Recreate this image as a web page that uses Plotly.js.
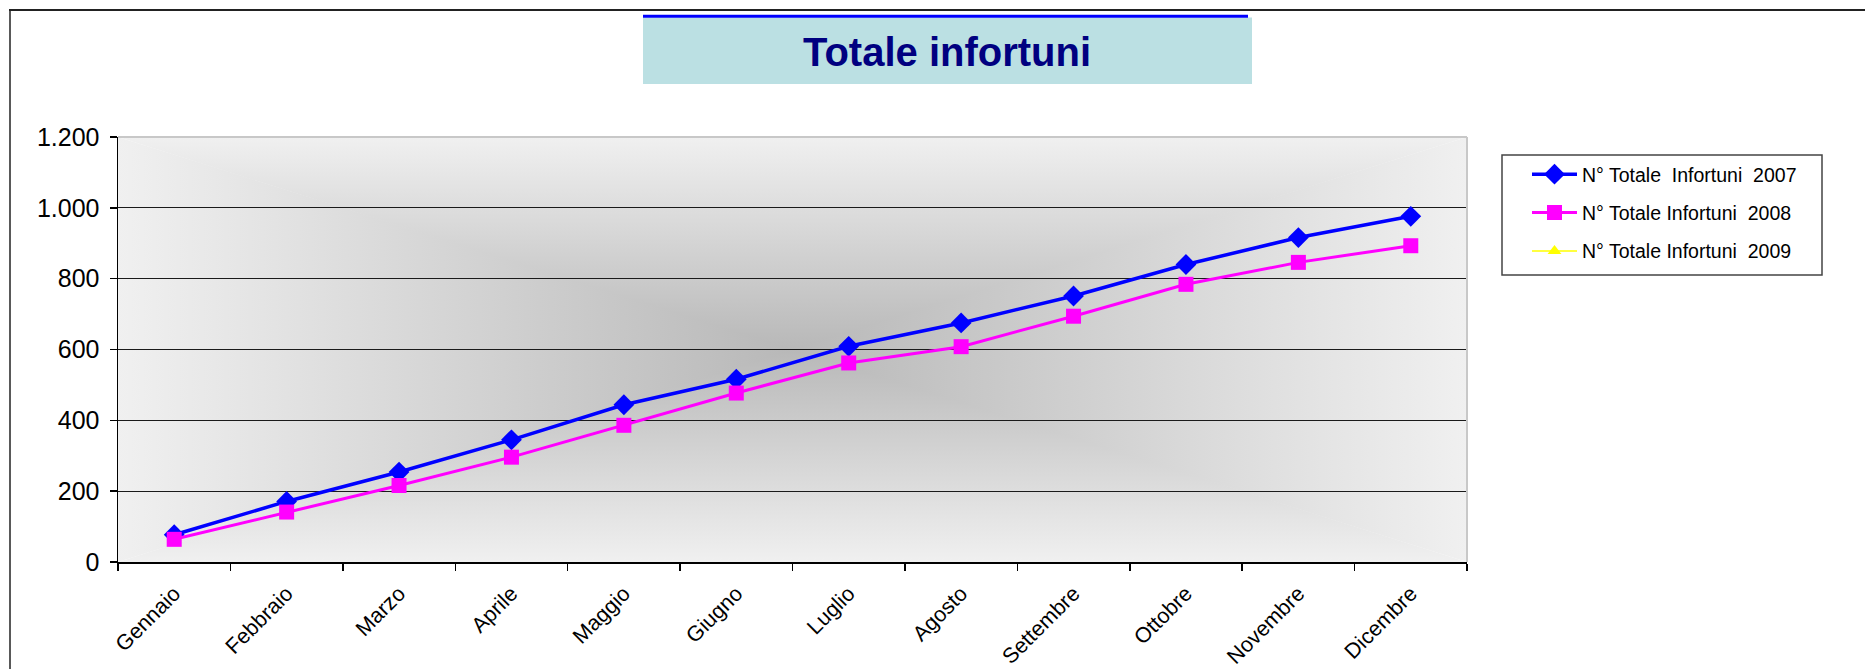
<!DOCTYPE html>
<html>
<head>
<meta charset="utf-8">
<script src="https://cdn.plot.ly/plotly-3.0.1.min.js"></script>
<style>html,body{margin:0;padding:0;background:#fff;}#chart{width:1865px;height:669px;}</style>
</head>
<body>
<div id="chart"></div>
<script>
// ---- data ----
const mesi = ["Gennaio","Febbraio","Marzo","Aprile","Maggio","Giugno","Luglio","Agosto","Settembre","Ottobre","Novembre","Dicembre"];
const infortuni2007 = [77, 171, 254, 345, 444, 516, 609, 675, 751, 840, 916, 976];
const infortuni2008 = [64, 141, 216, 296, 386, 477, 562, 608, 694, 784, 846, 893];
const infortuni2009 = [null, null, null, null, null, null, null, null, null, null, null, null];
const nomiSerie = ["N° Totale\u00a0 Infortuni\u00a0 2007", "N° Totale Infortuni\u00a0 2008", "N° Totale Infortuni\u00a0 2009"];
const titolo = "Totale infortuni";

// ---- geometry helpers (pixel -> paper) ----
const W = 1865, H = 669;
const L = 118, R = 1467, T = 137, B = 562;
const px = x => (x - L) / (R - L);
const py = y => (B - y) / (B - T);

const FONT = "Liberation Sans, Arial, sans-serif";

// rectangular "from centre" gradient background
const edge = "#f0f0f0", centre = "#b8b8b8";
const svg = "<svg xmlns='http://www.w3.org/2000/svg' width='1000' height='1000' viewBox='0 0 1000 1000' preserveAspectRatio='none'>" +
 "<defs>" +
 "<linearGradient id='l' gradientUnits='userSpaceOnUse' x1='0' y1='0' x2='500' y2='0'><stop offset='0' stop-color='"+edge+"'/><stop offset='1' stop-color='"+centre+"'/></linearGradient>" +
 "<linearGradient id='r' gradientUnits='userSpaceOnUse' x1='1000' y1='0' x2='500' y2='0'><stop offset='0' stop-color='"+edge+"'/><stop offset='1' stop-color='"+centre+"'/></linearGradient>" +
 "<linearGradient id='t' gradientUnits='userSpaceOnUse' x1='0' y1='0' x2='0' y2='500'><stop offset='0' stop-color='"+edge+"'/><stop offset='1' stop-color='"+centre+"'/></linearGradient>" +
 "<linearGradient id='b' gradientUnits='userSpaceOnUse' x1='0' y1='1000' x2='0' y2='500'><stop offset='0' stop-color='"+edge+"'/><stop offset='1' stop-color='"+centre+"'/></linearGradient>" +
 "</defs>" +
 "<polygon points='0,0 502,500 0,1000' fill='url(#l)'/>" +
 "<polygon points='1000,0 498,500 1000,1000' fill='url(#r)'/>" +
 "<polygon points='0,0 1000,0 500,502' fill='url(#t)'/>" +
 "<polygon points='0,1000 1000,1000 500,498' fill='url(#b)'/>" +
 "</svg>";
const bgSrc = "data:image/svg+xml;charset=utf-8," + encodeURIComponent(svg);

const traces = [
  {x: mesi, y: infortuni2007, name: nomiSerie[0], type: "scatter", mode: "lines+markers",
   line: {color: "#0000FF", width: 3.5}, marker: {symbol: "diamond", size: 16, color: "#0000FF"}, legendgroup: "a"},
  {x: mesi, y: infortuni2008, name: nomiSerie[1], type: "scatter", mode: "lines+markers",
   line: {color: "#FF00FF", width: 3}, marker: {symbol: "square", size: 15, color: "#FF00FF"}, legendgroup: "b"},
  {x: mesi, y: infortuni2009, name: nomiSerie[2], type: "scatter", mode: "lines+markers",
   line: {color: "#FFFF00", width: 1.5}, marker: {symbol: "triangle-up", size: 12, color: "#FFFF00"}, legendgroup: "c"}
];

const layout = {
  width: W, height: H,
  margin: {l: L, r: W - R, t: T, b: H - B, pad: 0},
  paper_bgcolor: "#ffffff",
  plot_bgcolor: "rgba(0,0,0,0)",
  font: {family: FONT, color: "#000000"},
  separators: ",.",
  title: {
    text: titolo,
    font: {family: FONT, size: 40, color: "#000080", weight: "bold"},
    xref: "container", yref: "container",
    x: 947 / W, xanchor: "center",
    y: 1 - 52 / H, yanchor: "middle"
  },
  xaxis: {
    type: "category", range: [-0.5, 11.5],
    tickson: "boundaries", ticks: "outside", ticklen: 7, tickwidth: 1.5, tickcolor: "#000",
    showline: true, linecolor: "#000", linewidth: 1.5,
    showgrid: false, zeroline: false,
    tickangle: -45, tickfont: {family: FONT, size: 21.5, color: "#000"},
    ticklabelstandoff: 9, fixedrange: true
  },
  yaxis: {
    range: [0, 1200], tick0: 0, dtick: 200,
    ticks: "outside", ticklen: 7, tickwidth: 1.5, tickcolor: "#000",
    showline: true, linecolor: "#000", linewidth: 1.5,
    showgrid: true, gridcolor: "#1a1a1a", gridwidth: 1, zeroline: false,
    separatethousands: true,
    tickfont: {family: FONT, size: 25, color: "#000"},
    ticklabelstandoff: 5, fixedrange: true
  },
  showlegend: true,
  legend: {
    x: px(1527), xanchor: "left", y: py(155), yanchor: "top",
    bgcolor: "rgba(0,0,0,0)", borderwidth: 0,
    font: {family: FONT, size: 19.5, color: "#000"},
    itemwidth: 45, tracegroupgap: 10, traceorder: "grouped"
  },
  images: [{
    source: bgSrc, xref: "paper", yref: "paper",
    x: 0, y: 1, sizex: 1, sizey: 1, xanchor: "left", yanchor: "top",
    sizing: "stretch", layer: "below"
  }],
  shapes: [
    // title box
    {type: "rect", xref: "paper", yref: "paper", x0: px(643), x1: px(1252), y0: py(84), y1: py(17.5),
     fillcolor: "#BBE0E3", line: {width: 0}, layer: "below"},
    {type: "line", xref: "paper", yref: "paper", x0: px(643), x1: px(1248), y0: py(16.3), y1: py(16.3),
     line: {color: "#0000FF", width: 3}, layer: "below"},
    // chart-area border (top and left)
    {type: "line", xref: "paper", yref: "paper", x0: px(9), x1: px(W + 5), y0: py(10), y1: py(10),
     line: {color: "#222", width: 2}, layer: "below"},
    {type: "line", xref: "paper", yref: "paper", x0: px(10), x1: px(10), y0: py(10), y1: py(H + 5),
     line: {color: "#222", width: 1.5}, layer: "below"},
    // plot area light border (top and right)
    {type: "line", xref: "paper", yref: "paper", x0: 0, x1: 1, y0: 1, y1: 1,
     line: {color: "#c8c8c8", width: 2}, layer: "above"},
    {type: "line", xref: "paper", yref: "paper", x0: 1, x1: 1, y0: 0, y1: 1,
     line: {color: "#c8c8c8", width: 2}, layer: "above"},
    // legend box
    {type: "rect", xref: "paper", yref: "paper", x0: px(1502), x1: px(1822), y0: py(275), y1: py(155),
     fillcolor: "rgba(255,255,255,0)", line: {color: "#444", width: 1.5}, layer: "below"}
  ]
};

Plotly.newPlot("chart", traces, layout, {displayModeBar: false, staticPlot: true});
</script>
</body>
</html>
